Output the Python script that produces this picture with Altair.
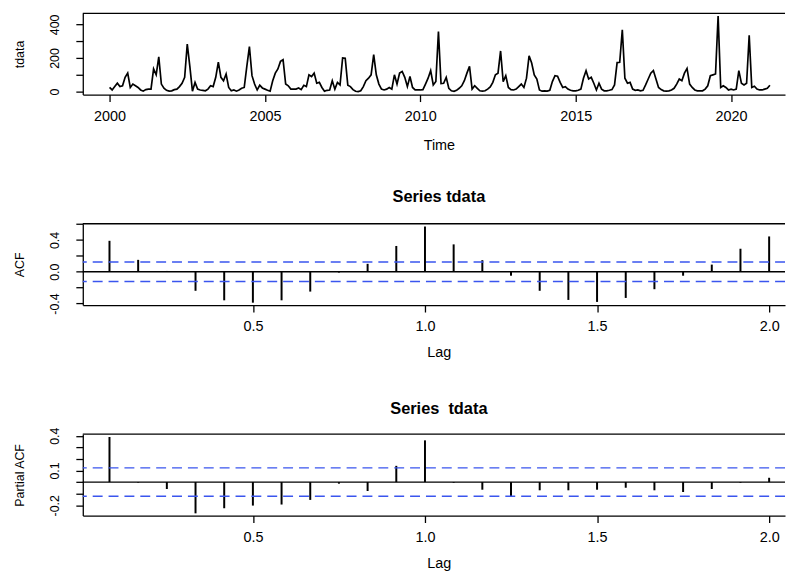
import altair as alt
import pandas as pd

# ---------------- data ----------------
start_year = 2000
# monthly series, Jan 2000 .. Apr 2021
tdata = [
    25, 10, 30, 50, 30, 35, 85, 110, 25, 45, 35, 25,      # 2000
    10, 3, 12, 15, 15, 135, 100, 207, 45, 20, 8, 3,       # 2001
    5, 12, 15, 30, 50, 85, 283, 150, 3, 55, 15, 10,       # 2002
    8, 5, 15, 35, 30, 85, 175, 85, 65, 105, 25, 5,        # 2003
    10, 3, 10, 20, 25, 150, 268, 95, 45, 10, 38, 22,      # 2004
    15, 8, 3, 65, 110, 135, 180, 190, 45, 35, 15, 15,     # 2005
    15, 22, 12, 38, 30, 100, 90, 110, 50, 55, 25, 3,      # 2006
    8, 10, 65, 15, 55, 40, 200, 198, 38, 30, 12, 2,       # 2007
    0, 5, 30, 65, 80, 100, 220, 100, 45, 15, 10, 15,      # 2008
    25, 15, 100, 45, 110, 120, 85, 30, 90, 25, 10, 10,    # 2009
    10, 12, 45, 80, 125, 40, 60, 358, 48, 50, 85, 20,     # 2010
    5, 2, 8, 20, 35, 65, 110, 150, 15, 35, 20, 5,         # 2011
    3, 5, 15, 28, 55, 100, 110, 242, 60, 95, 25, 12,      # 2012
    10, 15, 30, 45, 25, 80, 213, 170, 100, 75, 10, 3,     # 2013
    5, 3, 8, 60, 95, 92, 55, 25, 30, 15, 8, 5,            # 2014
    5, 8, 15, 80, 124, 75, 85, 50, 10, 50, 15, 5,         # 2015
    5, 8, 12, 40, 173, 175, 368, 80, 50, 55, 15, 8,       # 2016
    10, 5, 8, 40, 75, 110, 125, 75, 25, 12, 5, 3,         # 2017
    5, 10, 20, 45, 75, 65, 110, 138, 45, 25, 10, 5,       # 2018
    5, 5, 15, 35, 95, 100, 105, 450, 25, 35, 25, 10,      # 2019
    15, 10, 15, 125, 50, 40, 50, 335, 25, 32, 15, 10,     # 2020
    10, 15, 20, 38,                                       # 2021
]
acf_values = [0.39, 0.15, 0.01, -0.24, -0.36, -0.39, -0.36, -0.25, -0.01, 0.10, 0.325,
              0.57, 0.345, 0.146, -0.05, -0.24, -0.355, -0.38, -0.33, -0.22, -0.05,
              0.09, 0.29, 0.445]
pacf_values = [0.389, -0.005, -0.06, -0.27, -0.226, -0.203, -0.194, -0.154, -0.014,
               -0.077, 0.14, 0.36, -0.006, -0.066, -0.126, -0.071, -0.071, -0.066,
               -0.049, -0.071, -0.086, -0.06, -0.006, 0.037]
ci_bound = 0.1225

time_ticks = [2000, 2005, 2010, 2015, 2020]
ts_yticks = [0, 100, 200, 300, 400]
ts_ylabels = [0, 200, 400]
lag_ticks = [0.5, 1.0, 1.5, 2.0]
acf_yticks = [-0.4, -0.2, 0.0, 0.2, 0.4, 0.6]
acf_ylabels = [0.4, 0.0, -0.4]
pacf_yticks = [-0.2, -0.1, 0.0, 0.1, 0.2, 0.3, 0.4]
pacf_ylabels = [0.4, 0.1, -0.2]

# ---------------- tables ----------------
ts_df = pd.DataFrame({"time": [start_year + i / 12 for i in range(len(tdata))],
                      "value": tdata})
acf_df = pd.DataFrame({"lag": [(k + 1) / 12 for k in range(len(acf_values))],
                       "v": acf_values, "zero": 0.0})
pacf_df = pd.DataFrame({"lag": [(k + 1) / 12 for k in range(len(pacf_values))],
                        "v": pacf_values, "zero": 0.0})

W = 708
H = 82
FONT = "Liberation Sans"
XFS = 14.5
YFS = 12.5
BLUE = "#3a55ee"


def label_expr(vals, fmt):
    parts = [f"abs(datum.value - ({v})) < 1e-6 ? '{fmt(v)}'" for v in vals]
    return " : ".join(parts) + " : ''"


def x_axis(values, fmt, title, title_y):
    return alt.Axis(values=values, format=fmt, title=title, grid=False,
                    tickSize=7, tickWidth=1.3, tickColor="black",
                    domainColor="black", domainWidth=1.3,
                    labelFont=FONT, labelFontSize=XFS, labelColor="black",
                    labelBaseline="middle", labelPadding=15, labelFlush=False,
                    labelOverlap=False,
                    titleFont=FONT, titleFontSize=XFS, titleFontWeight="normal",
                    titleColor="black", titleX=359, titleY=title_y,
                    titleBaseline="middle", titleAlign="center")


def y_axis(values, labels, fmt, title):
    return alt.Axis(values=values, labelExpr=label_expr(labels, fmt), title=title,
                    grid=False, tickSize=7, tickWidth=1.3, tickColor="black",
                    domainColor="black", domainWidth=1.3,
                    labelFont=FONT, labelFontSize=YFS, labelColor="black",
                    labelAngle=270, labelAlign="center", labelBaseline="middle",
                    labelPadding=21, labelOverlap=False, labelFlush=False,
                    titleFont=FONT, titleFontSize=YFS, titleFontWeight="normal",
                    titleColor="black", titleAngle=270, titleX=-63.8, titleY=H / 2,
                    titleBaseline="middle", titleAlign="center")


def top_line():
    return alt.Chart(pd.DataFrame({"k": [0]})).mark_rule(
        color="black", strokeWidth=1.3).encode(
        x=alt.value(0), x2=alt.value(W), y=alt.value(0))


# ---------------- panel 1: the series ----------------
ts_line = alt.Chart(ts_df).mark_line(color="black", strokeWidth=1.7).encode(
    x=alt.X("time:Q", scale=alt.Scale(domain=[1999.138, 2021.736], nice=False, zero=False),
            axis=x_axis(time_ticks, "d", "Time", 51)),
    y=alt.Y("value:Q", scale=alt.Scale(domain=[-17.6, 466], nice=False, zero=False),
            axis=y_axis(ts_yticks, ts_ylabels, lambda v: f"{int(v)}", "tdata")),
)
panel1 = alt.layer(ts_line, top_line()).properties(width=W, height=H)


def corr_panel(df, ydom, yticks, ylabels, ytitle, title_text, title_offset):
    yscale = alt.Scale(domain=ydom, nice=False, zero=False)
    yax = y_axis(yticks, ylabels, lambda v: f"{v:.1f}", ytitle)
    spikes = alt.Chart(df).mark_rule(color="black", strokeWidth=2).encode(
        x=alt.X("lag:Q", scale=alt.Scale(domain=[0.00576, 2.0461], nice=False, zero=False),
                axis=x_axis(lag_ticks, ".1f", "Lag", 48)),
        y=alt.Y("v:Q", scale=yscale, axis=yax),
        y2="zero:Q",
    )
    zero = alt.Chart(pd.DataFrame({"v": [0.0]})).mark_rule(
        color="black", strokeWidth=1.3).encode(y=alt.Y("v:Q", scale=yscale, axis=yax))
    ci = alt.Chart(pd.DataFrame({"v": [ci_bound, -ci_bound]})).mark_rule(
        color=BLUE, strokeWidth=1.5, strokeDash=[10, 6]).encode(
        y=alt.Y("v:Q", scale=yscale, axis=yax))
    return alt.layer(spikes, zero, ci, top_line()).properties(
        width=W, height=H,
        title=alt.TitleParams(title_text, font=FONT, fontSize=16.5, fontWeight="bold",
                              color="black", anchor="middle", baseline="middle",
                              offset=title_offset, dx=5))


panel2 = corr_panel(acf_df, [-0.42, 0.605], acf_yticks, acf_ylabels, "ACF",
                    "Series tdata", 10)
panel3 = corr_panel(pacf_df, [-0.289, 0.413], pacf_yticks, pacf_ylabels, "Partial ACF",
                    "Series\u00a0 tdata", 2)

chart = alt.vconcat(panel1, panel2, panel3, spacing=130.2, bounds="flush").properties(
    padding={"left": 5.4, "top": 2, "right": 0, "bottom": 0},
    background="white",
).configure_view(stroke=None)

chart.save("out.html", embed_options={"renderer": "svg", "actions": False})
